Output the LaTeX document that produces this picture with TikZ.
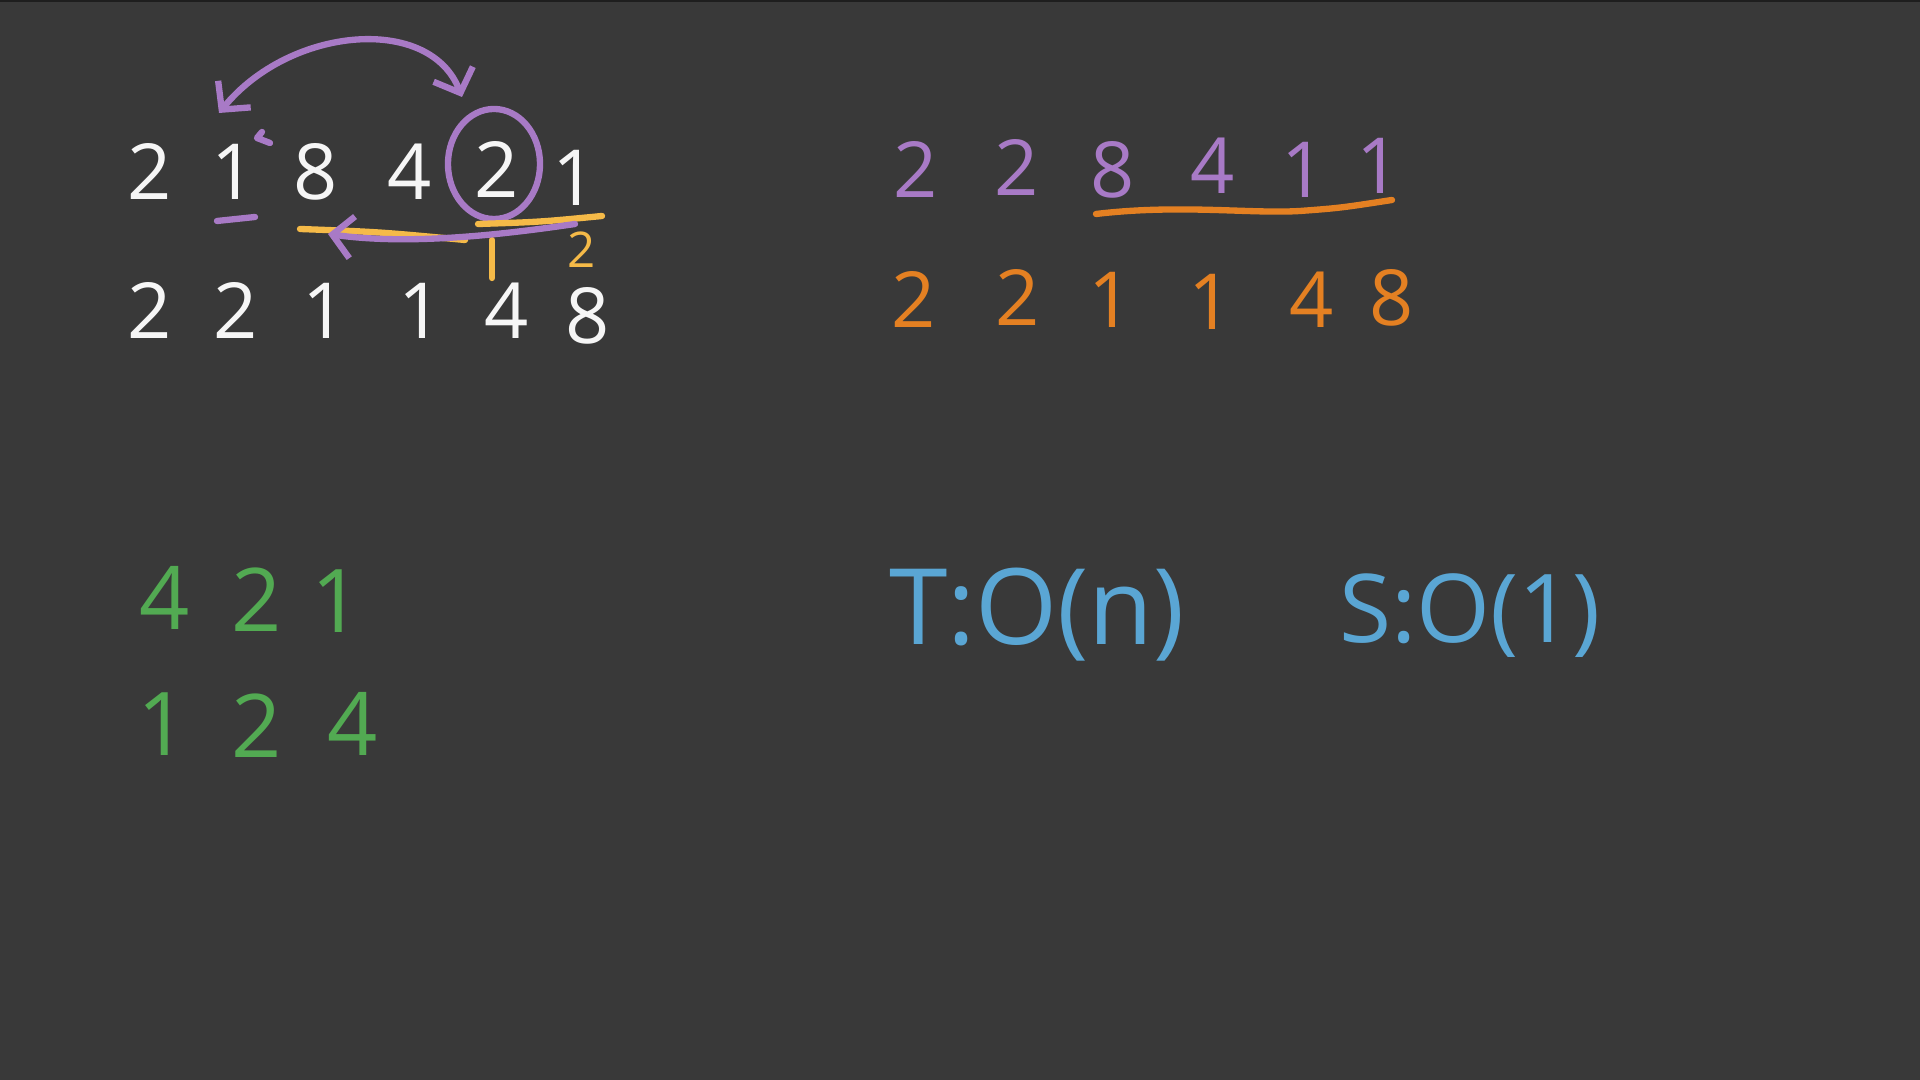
\documentclass[tikz,border=0pt]{standalone}
\usepackage{fontspec}
\setmainfont{Open Sans}
\usepackage{xcolor}
\usepackage{tikz}
\usetikzlibrary{positioning, arrows.meta, shapes.geometric}

\definecolor{board}{RGB}{57,57,57}
\definecolor{rim}{RGB}{30,30,30}
\definecolor{chalk}{RGB}{246,246,246}
\definecolor{lilac}{RGB}{168,122,198}
\definecolor{amber}{RGB}{245,186,72}
\definecolor{tangerine}{RGB}{228,128,34}
\definecolor{leaf}{RGB}{82,170,82}
\definecolor{sky}{RGB}{90,166,212}

\begin{document}
\begin{tikzpicture}[
    x=0.01cm, y=-0.01cm,
    digit/.style={font=\fontsize{22}{26}\selectfont, text=#1, inner sep=0pt},
    digit/.default=chalk,
    big/.style={font=\fontsize{25}{30}\selectfont, text=leaf, inner sep=0pt},
    cost/.style={font=\fontsize{#1}{36}\selectfont, text=sky, inner sep=0pt},
    cost/.default=30,
    pen/.style={draw=#1, line width=1.8pt, line cap=round, line join=round},
    pen/.default=lilac,
    barb/.style={-{Straight Barb[length=2mm, width=4.2mm]}},
    swap/.style={{Straight Barb[length=2mm, width=4.2mm]}-{Straight Barb[length=2mm, width=4.2mm]}},
    ring/.style={ellipse, draw=lilac, line width=1.8pt, minimum width=0.92cm, minimum height=1.1cm, inner sep=0pt},
]
% Board
\useasboundingbox (0,0) rectangle (1920,1080);
\fill[board] (0,0) rectangle (1920,1080);
\fill[rim] (0,0) rectangle (1920,2);

% Input row
\node[digit] (in1) at (150,172) {2};
\node[digit] (in2) at (234,172) {1};
\node[digit] (in3) at (316,172) {8};
\node[digit] (in4) at (410,172) {4};
\node[digit] (in5) at (497,170) {2};
\node[digit] (in6) at (575,178) {1};

% Sorted row
\node[digit] (out1) at (150,311) {2};
\node[digit] (out2) at (236,311) {2};
\node[digit] (out3) at (325,311) {1};
\node[digit] (out4) at (421,311) {1};
\node[digit] (out5) at (507,311) {4};
\node[digit] (out6) at (588,316) {8};

% Circled pivot
\node[ring] (ring) at (494,164) {};

% Swap arc
\coordinate (swapL) at (219,113);
\coordinate (swapR) at (462,97);
\draw[pen, swap] (swapL) .. controls (290,26) and (430,14) .. (swapR);
\draw[pen] (262,132) -- (257,138) -- (270,143);
\draw[pen] (217,221) -- (255,217);

% Yellow scan line
\draw[pen=amber] (300,229) .. controls (380,232) .. (465,240);
\draw[pen=amber] (478,224) .. controls (540,222) .. (602,216);
\draw[pen=amber] (492,240) -- (492,278);
\node[digit=amber, font=\fontsize{14}{16}\selectfont] (mark) at (582,250) {2};

% Back arrow
\coordinate (back) at (575,224);
\coordinate (backtip) at (328,234);
\draw[pen, barb] (back) .. controls (480,238) and (400,244) .. (backtip);

% Right: partial result
\node[digit=lilac] (mix1) at (916,170) {2};
\node[digit=lilac] (mix2) at (1017,168) {2};
\node[digit=lilac] (mix3) at (1113,170) {8};
\node[digit=lilac] (mix4) at (1213,166) {4};
\node[digit=lilac] (mix5) at (1304,170) {1};
\node[digit=lilac] (mix6) at (1379,166) {1};
\draw[pen=tangerine] (1096,214) .. controls (1180,204) and (1250,214) .. (1300,211) .. controls (1340,208) .. (1392,200);

% Right: final result
\node[digit=tangerine] (res1) at (914,300) {2};
\node[digit=tangerine] (res2) at (1018,298) {2};
\node[digit=tangerine] (res3) at (1111,300) {1};
\node[digit=tangerine] (res4) at (1211,302) {1};
\node[digit=tangerine] (res5) at (1312,300) {4};
\node[digit=tangerine] (res6) at (1392,298) {8};

% Green rows
\node[big] (bits1) at (165,598) {4};
\node[big] (bits2) at (257,600) {2};
\node[big] (bits3) at (337,601) {1};
\node[big] (rev1) at (163,724) {1};
\node[big] (rev2) at (257,726) {2};
\node[big] (rev3) at (353,724) {4};

% Complexity
\node[cost] (time) at (1037,615) {T:O(n)};
\node[cost=27] (space) at (1470,616) {S:O(1)};

\end{tikzpicture}
\end{document}
